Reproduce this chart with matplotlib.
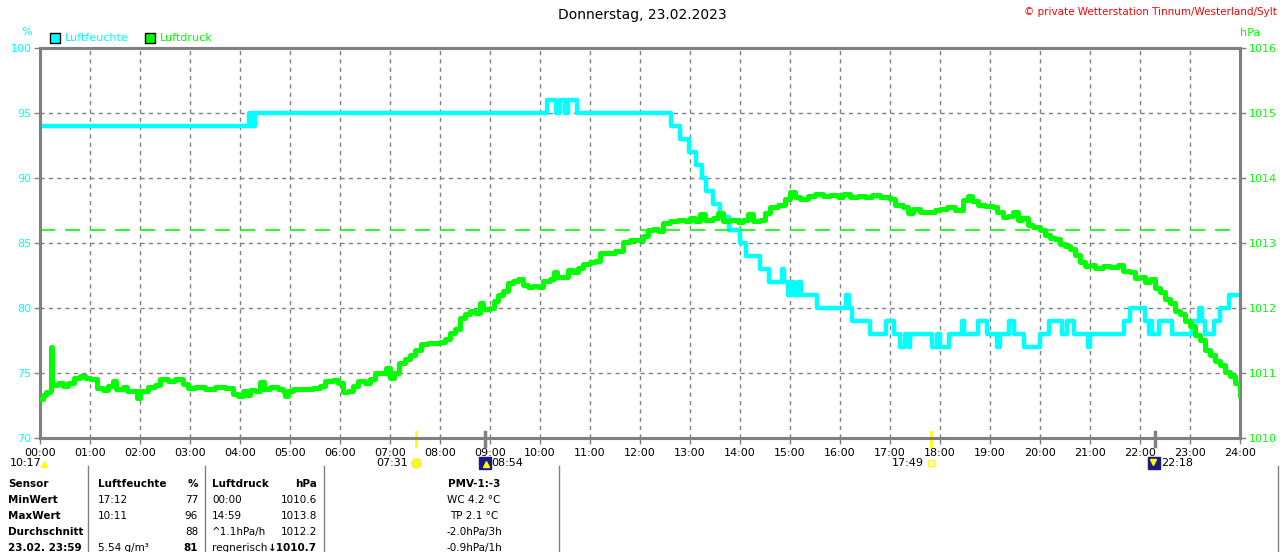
import matplotlib

matplotlib.use("Agg")
import matplotlib.pyplot as plt  # noqa: E402
import matplotlib.transforms as mtransforms  # noqa: E402

W, H = 1280, 552
CYAN = "#00FFFF"
GREEN = "#00FF00"
GRAY = "#808080"

# Luftfeuchte (%) as step changes: hour of change, new value
HUM_T = [0.00, 4.17, 4.20, 4.23, 4.27, 4.30, 10.13, 10.32, 10.40, 10.50, 10.55, 10.74,
         12.61, 12.79, 12.98, 13.12, 13.24, 13.32, 13.45, 13.60, 13.77, 14.00, 14.12,
         14.40, 14.57, 14.83, 14.88, 14.95, 15.02, 15.08, 15.15, 15.22, 15.30, 15.53,
         16.12, 16.17, 16.24, 16.60, 16.92, 17.08, 17.20, 17.30, 17.37, 17.40, 17.84,
         17.94, 18.00, 18.17, 18.43, 18.47, 18.75, 18.93, 19.13, 19.20, 19.37, 19.47,
         19.67, 20.00, 20.17, 20.43, 20.53, 20.67, 20.96, 21.00, 21.67, 21.80, 22.10,
         22.17, 22.20, 22.23, 22.30, 22.37, 22.63, 23.03, 23.17, 23.23, 23.30, 23.47,
         23.60, 23.77, 24.00]
HUM_V = [94, 95, 94, 95, 94, 95, 96, 95, 96, 95, 96, 95,
         94, 93, 92, 91, 90, 89, 88, 87, 86, 85, 84,
         83, 82, 83, 82, 81, 82, 81, 82, 81, 81, 80,
         81, 80, 79, 78, 79, 78, 77, 78, 77, 78, 77,
         78, 77, 78, 79, 78, 79, 78, 77, 78, 79, 78,
         77, 78, 79, 78, 79, 78, 77, 78, 79, 80, 79,
         78, 79, 78, 78, 79, 78, 79, 80, 79, 78, 79,
         80, 81, 81]

# Luftdruck (hPa)
P_T = [0.00, 0.05, 0.12, 0.20, 0.22, 0.24, 0.35, 0.45, 0.55, 0.67, 0.80, 0.90, 1.00,
       1.10, 1.13, 1.25, 1.35, 1.45, 1.52, 1.65, 1.73, 1.85, 1.93, 2.00, 2.15, 2.30,
       2.40, 2.55, 2.70, 2.85, 2.95, 3.10, 3.30, 3.50, 3.70, 3.85, 3.95, 4.05, 4.13,
       4.20, 4.30, 4.40, 4.48, 4.60, 4.75, 4.85, 4.90, 4.95, 5.05, 5.25, 5.45, 5.60,
       5.70, 5.85, 5.95, 6.05, 6.15, 6.25, 6.35, 6.50, 6.60, 6.70, 6.80, 6.92, 7.00,
       7.08, 7.18, 7.30, 7.40, 7.50, 7.62, 7.75, 7.85, 8.00, 8.10, 8.20, 8.30, 8.40,
       8.50, 8.60, 8.70, 8.80, 8.87, 9.00, 9.07, 9.15, 9.25, 9.35, 9.45, 9.55, 9.65,
       9.75, 9.85, 9.95, 10.05, 10.20, 10.27, 10.33, 10.45, 10.55, 10.65, 10.75,
       10.85, 11.00, 11.10, 11.20, 11.35, 11.50, 11.65, 11.80, 11.95, 12.05, 12.15,
       12.25, 12.35, 12.45, 12.60, 12.75, 12.90, 13.00, 13.10, 13.20, 13.30, 13.45,
       13.55, 13.65, 13.80, 13.95, 14.05, 14.15, 14.25, 14.40, 14.50, 14.60, 14.75,
       14.90, 15.00, 15.10, 15.20, 15.35, 15.50, 15.65, 15.80, 15.95, 16.05, 16.20,
       16.35, 16.50, 16.65, 16.80, 17.00, 17.10, 17.25, 17.35, 17.45, 17.60, 17.75,
       17.90, 18.00, 18.15, 18.30, 18.45, 18.55, 18.65, 18.75, 18.90, 19.05, 19.15,
       19.25, 19.35, 19.45, 19.55, 19.65, 19.75, 19.85, 20.00, 20.10, 20.20, 20.30,
       20.40, 20.50, 20.60, 20.70, 20.80, 20.90, 21.00, 21.10, 21.25, 21.40, 21.55,
       21.65, 21.80, 21.90, 22.00, 22.10, 22.20, 22.30, 22.40, 22.50, 22.60, 22.70,
       22.80, 22.90, 23.00, 23.10, 23.20, 23.30, 23.40, 23.50, 23.60, 23.70, 23.80,
       23.90, 24.00]
P_V = [1010.60, 1010.66, 1010.71, 1010.72, 1011.40, 1010.82, 1010.84, 1010.80, 1010.85,
       1010.93, 1010.95, 1010.92, 1010.91, 1010.90, 1010.77, 1010.74, 1010.80, 1010.88,
       1010.75, 1010.78, 1010.72, 1010.72, 1010.62, 1010.72, 1010.78, 1010.82, 1010.90,
       1010.88, 1010.91, 1010.83, 1010.77, 1010.78, 1010.76, 1010.78, 1010.77, 1010.68,
       1010.64, 1010.72, 1010.66, 1010.74, 1010.72, 1010.86, 1010.76, 1010.78, 1010.76,
       1010.72, 1010.64, 1010.72, 1010.76, 1010.76, 1010.77, 1010.80, 1010.87, 1010.89,
       1010.85, 1010.70, 1010.72, 1010.80, 1010.88, 1010.84, 1010.90, 1011.00, 1011.00,
       1011.08, 1010.92, 1011.00, 1011.15, 1011.22, 1011.28, 1011.36, 1011.44, 1011.46,
       1011.46, 1011.48, 1011.52, 1011.62, 1011.68, 1011.85, 1011.90, 1011.95, 1011.93,
       1012.07, 1011.98, 1012.00, 1012.10, 1012.20, 1012.26, 1012.38, 1012.42, 1012.44,
       1012.36, 1012.32, 1012.34, 1012.32, 1012.42, 1012.44, 1012.55, 1012.47, 1012.47,
       1012.58, 1012.55, 1012.62, 1012.68, 1012.70, 1012.72, 1012.84, 1012.84, 1012.87,
       1013.02, 1013.04, 1013.05, 1013.10, 1013.20, 1013.22, 1013.18, 1013.30, 1013.34,
       1013.36, 1013.34, 1013.38, 1013.34, 1013.45, 1013.35, 1013.38, 1013.46, 1013.34,
       1013.36, 1013.33, 1013.36, 1013.44, 1013.34, 1013.36, 1013.46, 1013.55, 1013.58,
       1013.68, 1013.79, 1013.70, 1013.68, 1013.72, 1013.76, 1013.72, 1013.74, 1013.70,
       1013.76, 1013.70, 1013.72, 1013.70, 1013.74, 1013.70, 1013.68, 1013.58, 1013.55,
       1013.46, 1013.52, 1013.48, 1013.47, 1013.50, 1013.52, 1013.55, 1013.50, 1013.66,
       1013.72, 1013.65, 1013.58, 1013.57, 1013.56, 1013.48, 1013.40, 1013.42, 1013.48,
       1013.35, 1013.38, 1013.28, 1013.24, 1013.20, 1013.12, 1013.08, 1013.06, 1012.98,
       1012.95, 1012.90, 1012.82, 1012.70, 1012.64, 1012.66, 1012.62, 1012.64, 1012.63,
       1012.66, 1012.57, 1012.55, 1012.46, 1012.48, 1012.40, 1012.45, 1012.30, 1012.24,
       1012.14, 1012.08, 1011.96, 1011.90, 1011.80, 1011.72, 1011.58, 1011.50, 1011.36,
       1011.28, 1011.18, 1011.12, 1011.02, 1010.95, 1010.84, 1010.66]
P_REF = 1013.2  # dashed reference line

HUM_TICKS = [70, 75, 80, 85, 90, 95, 100]
P_TICKS = [1010, 1011, 1012, 1013, 1014, 1015, 1016]
HOURS = list(range(25))
HOUR_LABELS = [f"{h:02d}:00" for h in HOURS]

SUN_RISE, SUN_SET = 7 + 31 / 60, 17 + 49 / 60
MOON_RISE, MOON_SET = 8 + 54 / 60, 22 + 18 / 60

TABLE = [
    ["Sensor", "Luftfeuchte", "%", "Luftdruck", "hPa", "PMV-1:-3"],
    ["MinWert", "17:12", "77", "00:00", "1010.6", "WC 4.2 °C"],
    ["MaxWert", "10:11", "96", "14:59", "1013.8", "TP 2.1 °C"],
    ["Durchschnitt", "", "88", "^1.1hPa/h", "1012.2", "-2.0hPa/3h"],
    ["23.02. 23:59", "5.54 g/m³", "81", "regnerisch", "↓1010.7", "-0.9hPa/1h"],
]


def fx(x):
    return x / W


def fy(y):
    return 1 - y / H


def marker(x, y, **kw):
    fig.add_artist(plt.Line2D([fx(x)], [fy(y)], transform=fig.transFigure,
                              linestyle="none", **kw))


fig = plt.figure(figsize=(12.8, 5.52), dpi=100)
plt.rcParams["font.family"] = ["DejaVu Sans"]
ax = fig.add_axes([fx(40), fy(438), fx(1200), 390 / H])
ax2 = ax.twinx()

ax.plot(HUM_T, HUM_V, drawstyle="steps-post", color=CYAN, lw=3.2, zorder=3)
ax2.plot(P_T, P_V, drawstyle="steps-post", color=GREEN, lw=3.6, zorder=3)
ax2.plot([0, 23.8], [P_REF, P_REF], color=GREEN, lw=1.2, dashes=(9, 6), zorder=2)

ax.set_xlim(0, 24)
ax.set_ylim(70, 100)
ax2.set_ylim(1010, 1016)
ax.set_xticks(HOURS)
ax.set_xticklabels(HOUR_LABELS, fontsize=8)
ax.set_yticks(HUM_TICKS)
ax.set_yticklabels([str(v) for v in HUM_TICKS], fontsize=8, color=CYAN)
ax2.set_yticks(P_TICKS)
ax2.set_yticklabels([str(v) for v in P_TICKS], fontsize=8, color=GREEN)

for h in HOURS[1:-1]:
    ax.axvline(h, color=GRAY, lw=1, dashes=(3, 3), zorder=1)
for v in HUM_TICKS[1:-1]:
    ax.axhline(v, color=GRAY, lw=1, dashes=(3, 3), zorder=1)

for a in (ax, ax2):
    for s in a.spines.values():
        s.set_color(GRAY)
        s.set_linewidth(2.2)
    a.tick_params(length=4, width=1, color=GRAY, pad=2)
ax.tick_params(axis="x", pad=3)

# sun and moon markers on the time axis
trans = mtransforms.blended_transform_factory(ax.transData, ax.transAxes)
for t in (SUN_RISE, SUN_SET):
    ax.plot([t, t], [-0.02, 0.016], color="#FFFF00", lw=2, transform=trans,
            clip_on=False, zorder=5)
for t in (MOON_RISE, MOON_SET):
    ax.plot([t, t], [-0.02, 0.016], color=GRAY, lw=2.5, transform=trans,
            clip_on=False, zorder=5)

fig.text(fx(642), fy(15), "Donnerstag, 23.02.2023", ha="center", va="center",
         fontsize=10)
fig.text(fx(1277), fy(12), "© private Wetterstation Tinnum/Westerland/Sylt",
         ha="right", va="center", fontsize=7.5, color="red")
fig.text(fx(27), fy(32), "%", ha="center", va="center", fontsize=8, color=CYAN)
fig.text(fx(1250), fy(33), "hPa", ha="center", va="center", fontsize=8, color=GREEN)

# legend boxes
for x0, label, col in ((50, "Luftfeuchte", CYAN), (145, "Luftdruck", GREEN)):
    fig.patches.append(plt.Rectangle((fx(x0), fy(43)), fx(10), 10 / H,
                                     transform=fig.transFigure, facecolor=col,
                                     edgecolor="black", lw=1))
    fig.text(fx(x0 + 15), fy(38), label, ha="left", va="center", fontsize=8,
             color=col)

# sun/moon times with small icons
ty = 463
fig.text(fx(10), fy(ty), "10:17", ha="left", va="center", fontsize=8)
marker(44, ty + 1, marker="^", ms=5, color="#FFFF00")
fig.text(fx(408), fy(ty), "07:31", ha="right", va="center", fontsize=8)
marker(416, ty, marker="o", ms=7, color="#FFFF00", mec="#FFE080")
marker(485, ty, marker="s", ms=9, color="#1a1a80")
marker(486, ty + 1, marker="^", ms=4, color="#FFFF00")
fig.text(fx(491), fy(ty), "08:54", ha="left", va="center", fontsize=8)
fig.text(fx(924), fy(ty), "17:49", ha="right", va="center", fontsize=8)
marker(931, ty, marker="s", ms=5, mfc="none", mec="#FFFF00", mew=1)
marker(1154, ty, marker="s", ms=9, color="#1a1a80")
marker(1153, ty - 1, marker="v", ms=4, color="#FFFF00")
fig.text(fx(1161), fy(ty), "22:18", ha="left", va="center", fontsize=8)

# summary table
for xs in (88, 205, 324, 559, 1278):
    fig.lines.append(plt.Line2D([fx(xs), fx(xs)], [fy(466), fy(552)],
                                transform=fig.transFigure, color=GRAY, lw=1))
cols = [(8, "left"), (98, "left"), (198, "right"), (212, "left"), (317, "right"),
        (474, "center")]
for r, row in enumerate(TABLE):
    y = fy(484 + 16 * r)
    for c, txt in enumerate(row):
        x, ha = cols[c]
        bold = r == 0 or c == 0 or (r == 4 and c in (2, 4))
        fig.text(fx(x), y, txt, ha=ha, va="center", fontsize=7.5,
                 fontweight="bold" if bold else "normal")

fig.savefig("out.png", dpi=100)
